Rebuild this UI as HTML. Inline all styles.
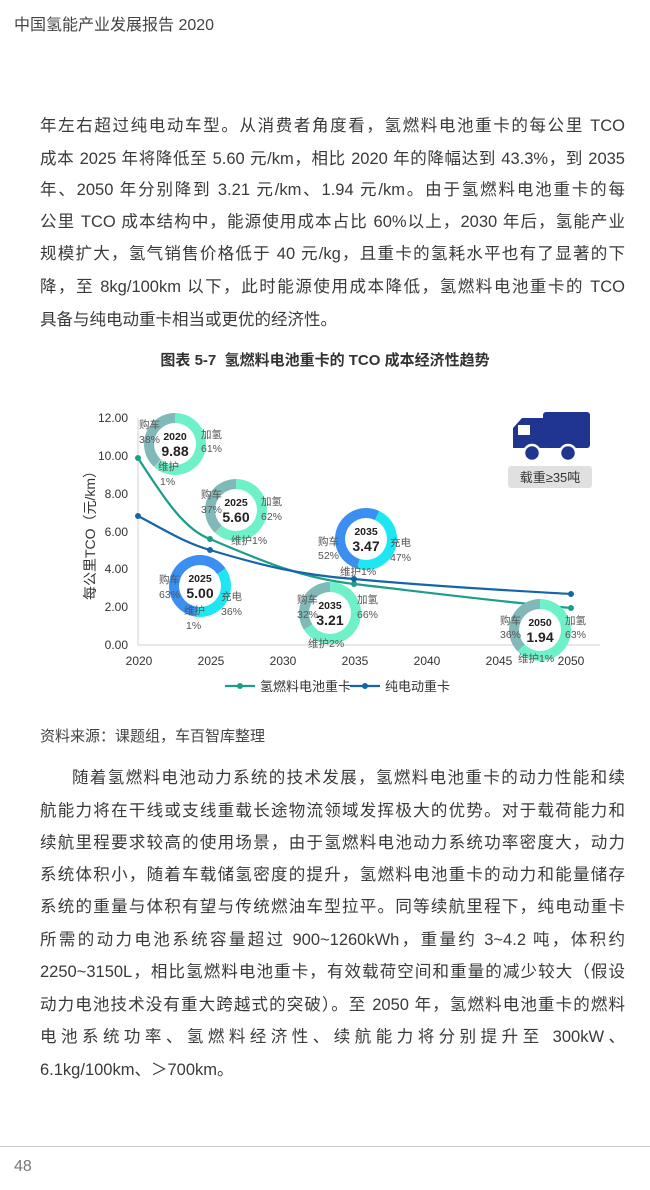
<!DOCTYPE html>
<html><head><meta charset="utf-8"><style>
body{margin:0;width:650px;height:1190px;background:#fff;position:relative;overflow:hidden;font-family:"Liberation Sans","Noto Sans CJK SC",sans-serif;color:#333}
.hd{position:absolute;left:14px;top:11px;font-size:16px;color:#444}
.ln{position:absolute;left:40px;width:585px;font-size:16.5px;line-height:20px;text-align:justify;text-align-last:justify;white-space:nowrap;color:#3a3a3a}
.nl{text-align-last:left}
.cap{position:absolute;left:0;width:650px;top:349px;text-align:center;font-size:15px;font-weight:bold;color:#333}
.src{position:absolute;left:40px;top:725px;font-size:15px;color:#444}
.foot{position:absolute;left:0;top:1146px;width:650px;height:1px;background:#ccc}
.pn{position:absolute;left:14px;top:1158px;font-size:16px;color:#777}
.d{position:absolute;border-radius:50%;width:62px;height:62px}
.d::after{content:"";position:absolute;left:10px;top:10px;width:42px;height:42px;border-radius:50%;background:#fff}
.dt{position:absolute;z-index:2;width:62px;text-align:center;font-weight:bold;color:#222;line-height:14px}
.dt b{font-size:14px;display:block}
.dt i{font-style:normal;font-size:10.5px;display:block}
.fc{background:conic-gradient(#6ef0c8 0 61%,#a0d8d0 61% 62%,#80b9b8 62% 100%)}
.bev{background:conic-gradient(from 55deg,#1ee6f2 0 37%,#3a8ff0 37% 100%)}
.ov{position:absolute;left:0;top:395px;z-index:3}
</style></head><body>
<div class="hd">中国氢能产业发展报告 2020</div>
<div class="ln" style="top:116px">年左右超过纯电动车型。从消费者角度看，氢燃料电池重卡的每公里 TCO</div>
<div class="ln" style="top:149px">成本 2025 年将降低至 5.60 元/km，相比 2020 年的降幅达到 43.3%，到 2035</div>
<div class="ln" style="top:180px">年、2050 年分别降到 3.21 元/km、1.94 元/km。由于氢燃料电池重卡的每</div>
<div class="ln" style="top:212px">公里 TCO 成本结构中，能源使用成本占比 60%以上，2030 年后，氢能产业</div>
<div class="ln" style="top:244px">规模扩大，氢气销售价格低于 40 元/kg，且重卡的氢耗水平也有了显著的下</div>
<div class="ln" style="top:277px">降，至 8kg/100km 以下，此时能源使用成本降低，氢燃料电池重卡的 TCO</div>
<div class="ln nl" style="top:310px">具备与纯电动重卡相当或更优的经济性。</div>
<div class="cap">图表 5-7 &nbsp;氢燃料电池重卡的 TCO 成本经济性趋势</div>

<svg style="position:absolute;left:0;top:395px" width="650" height="310" viewBox="0 395 650 310" font-family="Liberation Sans, Noto Sans CJK SC, sans-serif">
<line x1="138" y1="418" x2="138" y2="645" stroke="#d0d0d0"/>
<line x1="138" y1="645" x2="600" y2="645" stroke="#d0d0d0"/>
<g font-size="12" fill="#333" text-anchor="end">
<text x="128" y="422">12.00</text><text x="128" y="460">10.00</text><text x="128" y="498">8.00</text><text x="128" y="536">6.00</text><text x="128" y="573">4.00</text><text x="128" y="611">2.00</text><text x="128" y="649">0.00</text>
</g>
<g font-size="12" fill="#333" text-anchor="middle">
<text x="139" y="665">2020</text><text x="211" y="665">2025</text><text x="283" y="665">2030</text><text x="355" y="665">2035</text><text x="427" y="665">2040</text><text x="499" y="665">2045</text><text x="571" y="665">2050</text>
</g>
<text transform="translate(95,532) rotate(-90)" font-size="14" fill="#333" text-anchor="middle">每公里TCO（元/km）</text>
<path d="M138,458 C165,500 185,530 210,539 C260,560 300,578 354,584 C440,594 520,604 571,608" fill="none" stroke="#1a9e8a" stroke-width="2.2"/>
<path d="M138,516 C165,530 185,543 210,550 C260,565 300,575 354,579 C440,587 520,591 571,594" fill="none" stroke="#1565a8" stroke-width="2.2"/>
<g fill="#1a9e8a"><circle cx="138" cy="458" r="3"/><circle cx="210" cy="539" r="3"/><circle cx="354" cy="584" r="3"/><circle cx="571" cy="608" r="3"/></g>
<g fill="#1565a8"><circle cx="138" cy="516" r="3"/><circle cx="210" cy="550" r="3"/><circle cx="354" cy="579" r="3"/><circle cx="571" cy="594" r="3"/></g>
<line x1="225" y1="686" x2="255" y2="686" stroke="#1a9e8a" stroke-width="2.2"/><circle cx="240" cy="686" r="3" fill="#1a9e8a"/>
<text x="260" y="691" font-size="13" fill="#333">氢燃料电池重卡</text>
<line x1="350" y1="686" x2="380" y2="686" stroke="#1565a8" stroke-width="2.2"/><circle cx="365" cy="686" r="3" fill="#1565a8"/>
<text x="385" y="691" font-size="13" fill="#333">纯电动重卡</text>
<rect x="543" y="412" width="47" height="36" rx="3" fill="#1f3590"/>
<path d="M513,448 L513,428 L522,418 L545,418 L545,448 Z" fill="#1f3590"/>
<rect x="518" y="425" width="12" height="10" fill="#fff"/>
<circle cx="532" cy="453" r="8" fill="#1f3590" stroke="#fff" stroke-width="2.5"/>
<circle cx="568" cy="453" r="8" fill="#1f3590" stroke="#fff" stroke-width="2.5"/>
<rect x="508" y="466" width="84" height="22" rx="3" fill="#e0e0e0"/>
<text x="550" y="482" font-size="13" fill="#333" text-anchor="middle">载重≥35吨</text>
</svg>

<div class="d fc" style="left:144px;top:413px"></div><div class="dt" style="left:144px;top:430px"><i>2020</i><b>9.88</b></div>
<div class="d fc" style="left:205px;top:479px"></div><div class="dt" style="left:205px;top:496px"><i>2025</i><b>5.60</b></div>
<div class="d bev" style="left:169px;top:555px"></div><div class="dt" style="left:169px;top:572px"><i>2025</i><b>5.00</b></div>
<div class="d bev" style="left:335px;top:508px;background:conic-gradient(from 25deg,#1ee6f2 0 48%,#3a8ff0 48% 100%)"></div><div class="dt" style="left:335px;top:525px"><i>2035</i><b>3.47</b></div>
<div class="d fc" style="left:299px;top:582px;background:conic-gradient(#6ef0c8 0 66%,#80b9b8 66% 100%)"></div><div class="dt" style="left:299px;top:599px"><i>2035</i><b>3.21</b></div>
<div class="d fc" style="left:509px;top:599px;background:conic-gradient(#6ef0c8 0 63%,#80b9b8 63% 100%)"></div><div class="dt" style="left:509px;top:616px"><i>2050</i><b>1.94</b></div>

<svg class="ov" width="650" height="310" viewBox="0 395 650 310" font-family="Liberation Sans, Noto Sans CJK SC, sans-serif">
<g font-size="10.5" fill="#555">
<text x="139" y="428">购车</text><text x="139" y="443">38%</text><text x="201" y="438">加氢</text><text x="201" y="452">61%</text><text x="158" y="470">维护</text><text x="160" y="485">1%</text>
<text x="201" y="498">购车</text><text x="201" y="513">37%</text><text x="261" y="505">加氢</text><text x="261" y="520">62%</text><text x="231" y="544">维护1%</text>
<text x="159" y="583">购车</text><text x="159" y="598">63%</text><text x="221" y="600">充电</text><text x="221" y="615">36%</text><text x="184" y="614">维护</text><text x="186" y="629">1%</text>
<text x="318" y="545">购车</text><text x="318" y="559">52%</text><text x="390" y="546">充电</text><text x="390" y="561">47%</text><text x="340" y="575">维护1%</text>
<text x="297" y="603">购车</text><text x="297" y="618">32%</text><text x="357" y="603">加氢</text><text x="357" y="618">66%</text><text x="308" y="647">维护2%</text>
<text x="500" y="624">购车</text><text x="500" y="638">36%</text><text x="565" y="624">加氢</text><text x="565" y="638">63%</text><text x="518" y="662">维护1%</text>
</g>
</svg>

<div class="src">资料来源：课题组，车百智库整理</div>
<div class="ln" style="top:768px;left:72px;width:553px">随着氢燃料电池动力系统的技术发展，氢燃料电池重卡的动力性能和续</div>
<div class="ln" style="top:801px">航能力将在干线或支线重载长途物流领域发挥极大的优势。对于载荷能力和</div>
<div class="ln" style="top:833px">续航里程要求较高的使用场景，由于氢燃料电池动力系统功率密度大，动力</div>
<div class="ln" style="top:865px">系统体积小，随着车载储氢密度的提升，氢燃料电池重卡的动力和能量储存</div>
<div class="ln" style="top:897px">系统的重量与体积有望与传统燃油车型拉平。同等续航里程下，纯电动重卡</div>
<div class="ln" style="top:930px">所需的动力电池系统容量超过 900~1260kWh，重量约 3~4.2 吨，体积约</div>
<div class="ln" style="top:962px">2250~3150L，相比氢燃料电池重卡，有效载荷空间和重量的减少较大（假设</div>
<div class="ln" style="top:995px">动力电池技术没有重大跨越式的突破）。至 2050 年，氢燃料电池重卡的燃料</div>
<div class="ln" style="top:1027px">电池系统功率、氢燃料经济性、续航能力将分别提升至 300kW、</div>
<div class="ln nl" style="top:1060px">6.1kg/100km、＞700km。</div>
<div class="foot"></div>
<div class="pn">48</div>
</body></html>
